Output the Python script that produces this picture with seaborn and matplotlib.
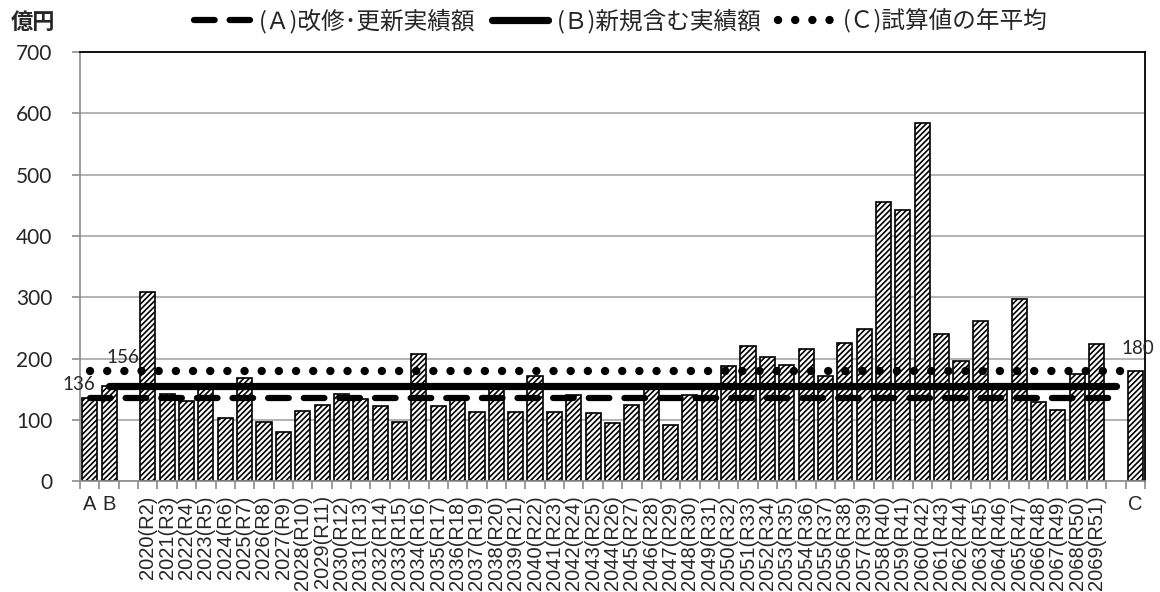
import numpy as np
import pandas as pd
import seaborn as sns
import matplotlib.pyplot as plt

# categories: A, B, blank, 2020(R2)..2069(R51), blank, C
years = list(range(2020, 2070))
year_labels = [f"{y}(R{y - 2018})" for y in years]
categories = ["A", "B", ""] + year_labels + ["", "C"]

value_a = 136
value_b = 156
value_c = 180
values_years = [308, 143, 131, 152, 103, 168, 97, 81, 114, 124,
                143, 134, 122, 96, 207, 122, 135, 113, 153, 113,
                171, 113, 140, 111, 95, 124, 153, 92, 141, 153,
                188, 220, 203, 190, 215, 171, 226, 248, 456, 442,
                585, 240, 196, 262, 150, 297, 130, 116, 175, 224]
bar_values = [value_a, value_b, np.nan] + values_years + [np.nan, value_c]

# average lines (start / end category index)
avg_a, avg_a_span = 136, (0, 53)
avg_b, avg_b_span = 156, (1, 53)
avg_c, avg_c_span = 180, (0, 54)

legend_labels = ["(Ａ)改修･更新実績額", "(Ｂ)新規含む実績額", "(Ｃ)試算値の年平均"]

sns.set_theme(style="white")
plt.rcParams["font.family"] = ["Noto Sans CJK JP", "DejaVu Sans"]
plt.rcParams["hatch.linewidth"] = 1.2
plt.rcParams["hatch.color"] = "black"

fig = plt.figure(figsize=(11.6, 5.92), dpi=100)
ax = fig.add_axes([0.069, 0.187, 0.918, 0.725])

pos = np.arange(len(categories))
df = pd.DataFrame({"pos": pos, "value": bar_values})
sns.barplot(data=df, x="pos", y="value", color="white", saturation=1,
            edgecolor="black", linewidth=1.2, width=0.78, errorbar=None, ax=ax)
for p in ax.patches:
    p.set_hatch("//////")

# average lines
gray = "#8c8c8c"
line_specs = [
    (avg_a, avg_a_span, 4.5, (3.3, 2.4)),
    (avg_b, avg_b_span, 5.2, None),
    (avg_c, avg_c_span, 6.0, (0.01, 2.05)),
]
handles = []
for val, (s, e), lw, dash in line_specs:
    xs = np.arange(s, e + 1)
    sns.lineplot(x=xs, y=np.full(len(xs), val), ax=ax, color="black", lw=lw)
    ln = ax.lines[-1]
    ln.set_solid_capstyle("round")
    ln.set_dash_capstyle("round")
    if dash is not None:
        ln.set_dashes(dash)
    handles.append(ln)

lab_font = dict(family=["Lato", "DejaVu Sans"], fontsize=13.5)
ax.annotate(str(avg_a), (avg_a_span[0], avg_a), xytext=(-8, 9.5),
            textcoords="offset points", ha="center", va="center", **lab_font)
ax.annotate(str(avg_b), (avg_b_span[0], avg_b), xytext=(10, 20),
            textcoords="offset points", ha="center", va="center", **lab_font)
ax.annotate(str(avg_c), (avg_c_span[1], avg_c), xytext=(2, 16),
            textcoords="offset points", ha="center", va="center", **lab_font)

# axes styling
ax.set_ylim(0, 700)
ax.set_yticks(range(0, 701, 100))
ax.set_xlim(-0.5, len(categories) - 0.5)
ax.yaxis.grid(True, color="#a6a6a6", lw=1.2)
ax.set_axisbelow(True)
ax.set_xlabel("")
ax.set_ylabel("")

for side in ["left", "bottom"]:
    ax.spines[side].set_color(gray)
    ax.spines[side].set_linewidth(1.2)
for side in ["top", "right"]:
    ax.spines[side].set_color("black")
    ax.spines[side].set_linewidth(1.3)

ax.tick_params(axis="y", left=True, length=6, width=1.2, color=gray, pad=14)
for t in ax.get_yticklabels():
    t.set_fontfamily(["Lato", "DejaVu Sans"])
    t.set_fontsize(15)

ax.set_xticks(pos)
ax.set_xticklabels(categories)
ax.set_xticks(np.arange(-0.5, len(categories)), minor=True)
ax.tick_params(axis="x", which="major", bottom=True, length=0, pad=10)
ax.tick_params(axis="x", which="minor", bottom=True, length=6, width=1.2, color=gray)
for t in ax.get_xticklabels():
    t.set_fontfamily(["Liberation Sans", "DejaVu Sans"])
    t.set_fontsize(14.5)
    t.set_rotation(0 if t.get_text() in ("A", "B", "C") else 90)

fig.legend(handles, legend_labels, loc="center", bbox_to_anchor=(0.535, 0.964),
           ncol=3, frameon=False, fontsize=17, handlelength=2.4,
           handletextpad=0.35, columnspacing=0.7, borderaxespad=0)

fig.text(0.009, 0.962, "億円", fontsize=16, fontweight="bold", va="center", ha="left")

fig.savefig("out.png", dpi=100)
